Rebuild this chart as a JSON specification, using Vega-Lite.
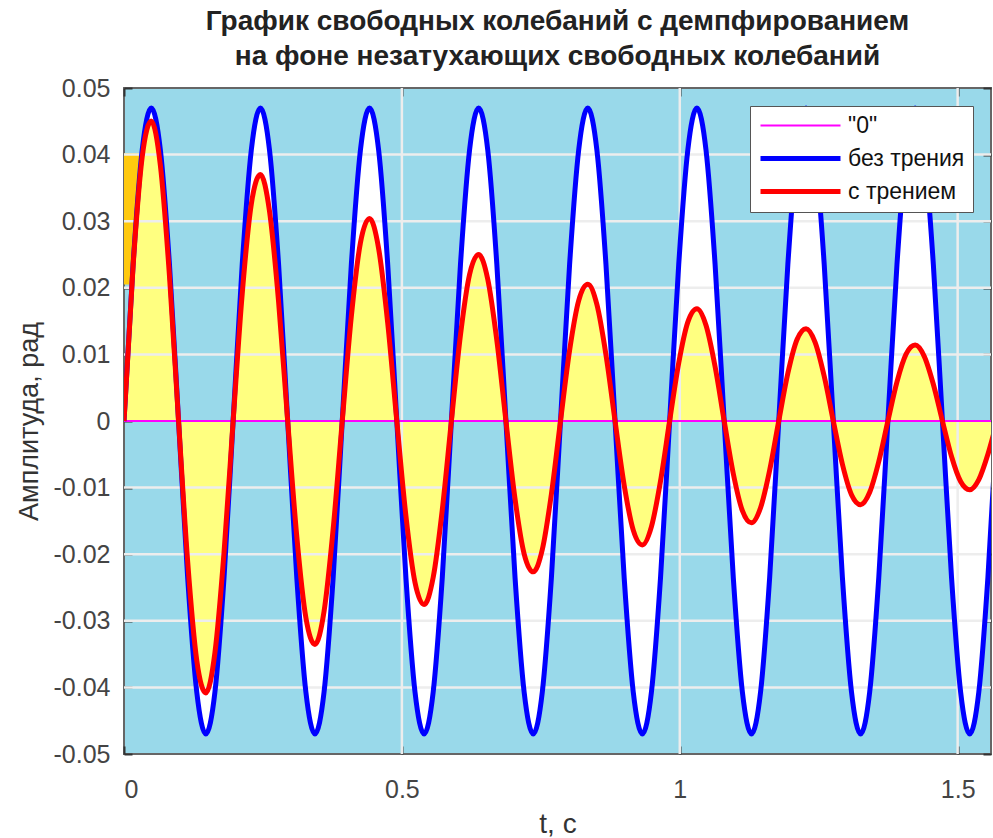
{
  "$schema": "https://vega.github.io/schema/vega-lite/v6.json",
  "width": 867,
  "height": 666,
  "autosize": {"type": "none"},
  "padding": {"left": 124, "top": 88, "right": 2, "bottom": 84},
  "background": "white",
  "config": {
    "font": "Liberation Sans",
    "view": {"fill": "#99D9EA", "stroke": "#666666", "strokeWidth": 2},
    "legend": {
      "orient": "none",
      "legendX": 626,
      "legendY": 18,
      "fillColor": "white",
      "strokeColor": "#555555",
      "padding": 8,
      "symbolType": "M-1,0H7",
      "symbolSize": 400,
      "labelFontSize": 23,
      "labelColor": "#111111",
      "labelOffset": 65,
      "rowPadding": 8,
      "title": null
    }
  },
  "title": {
    "text": ["График свободных колебаний с демпфированием", "на фоне незатухающих свободных колебаний"],
    "fontSize": 28,
    "fontWeight": "bold",
    "color": "#222222",
    "lineHeight": 35,
    "offset": 5,
    "anchor": "middle"
  },
  "datasets": {
    "osc": [
      {"t": 0, "zero": 0, "free": 0, "damped": 0},
      {"t": 0.01636, "zero": 0, "free": 0.0235, "damped": 0.023266},
      {"t": 0.03272, "zero": 0, "free": 0.0407, "damped": 0.039643},
      {"t": 0.04909, "zero": 0, "free": 0.047, "damped": 0.045034},
      {"t": 0.06545, "zero": 0, "free": 0.0407, "damped": 0.038367},
      {"t": 0.08181, "zero": 0, "free": 0.0235, "damped": 0.021793},
      {"t": 0.09817, "zero": 0, "free": 0, "damped": 0},
      {"t": 0.11454, "zero": 0, "free": -0.0235, "damped": -0.021091},
      {"t": 0.1309, "zero": 0, "free": -0.0407, "damped": -0.035936},
      {"t": 0.14726, "zero": 0, "free": -0.047, "damped": -0.040823},
      {"t": 0.16362, "zero": 0, "free": -0.0407, "damped": -0.034779},
      {"t": 0.17999, "zero": 0, "free": -0.0235, "damped": -0.019755},
      {"t": 0.19635, "zero": 0, "free": 0, "damped": 0},
      {"t": 0.21271, "zero": 0, "free": 0.0235, "damped": 0.019118},
      {"t": 0.22907, "zero": 0, "free": 0.0407, "damped": 0.032576},
      {"t": 0.24544, "zero": 0, "free": 0.047, "damped": 0.037006},
      {"t": 0.2618, "zero": 0, "free": 0.0407, "damped": 0.031527},
      {"t": 0.27816, "zero": 0, "free": 0.0235, "damped": 0.017908},
      {"t": 0.29452, "zero": 0, "free": 0, "damped": 0},
      {"t": 0.31089, "zero": 0, "free": -0.0235, "damped": -0.017331},
      {"t": 0.32725, "zero": 0, "free": -0.0407, "damped": -0.02953},
      {"t": 0.34361, "zero": 0, "free": -0.047, "damped": -0.033546},
      {"t": 0.35997, "zero": 0, "free": -0.0407, "damped": -0.028579},
      {"t": 0.37634, "zero": 0, "free": -0.0235, "damped": -0.016233},
      {"t": 0.3927, "zero": 0, "free": 0, "damped": 0},
      {"t": 0.40906, "zero": 0, "free": 0.0235, "damped": 0.01571},
      {"t": 0.42542, "zero": 0, "free": 0.0407, "damped": 0.026768},
      {"t": 0.44179, "zero": 0, "free": 0.047, "damped": 0.030409},
      {"t": 0.45815, "zero": 0, "free": 0.0407, "damped": 0.025907},
      {"t": 0.47451, "zero": 0, "free": 0.0235, "damped": 0.014716},
      {"t": 0.49087, "zero": 0, "free": 0, "damped": 0},
      {"t": 0.50724, "zero": 0, "free": -0.0235, "damped": -0.014241},
      {"t": 0.5236, "zero": 0, "free": -0.0407, "damped": -0.024266},
      {"t": 0.53996, "zero": 0, "free": -0.047, "damped": -0.027565},
      {"t": 0.55632, "zero": 0, "free": -0.0407, "damped": -0.023484},
      {"t": 0.57269, "zero": 0, "free": -0.0235, "damped": -0.013339},
      {"t": 0.58905, "zero": 0, "free": 0, "damped": 0},
      {"t": 0.60541, "zero": 0, "free": 0.0235, "damped": 0.01291},
      {"t": 0.62177, "zero": 0, "free": 0.0407, "damped": 0.021997},
      {"t": 0.63814, "zero": 0, "free": 0.047, "damped": 0.024988},
      {"t": 0.6545, "zero": 0, "free": 0.0407, "damped": 0.021289},
      {"t": 0.67086, "zero": 0, "free": 0.0235, "damped": 0.012092},
      {"t": 0.68722, "zero": 0, "free": 0, "damped": 0},
      {"t": 0.70359, "zero": 0, "free": -0.0235, "damped": -0.011703},
      {"t": 0.71995, "zero": 0, "free": -0.0407, "damped": -0.01994},
      {"t": 0.73631, "zero": 0, "free": -0.047, "damped": -0.022651},
      {"t": 0.75267, "zero": 0, "free": -0.0407, "damped": -0.019298},
      {"t": 0.76904, "zero": 0, "free": -0.0235, "damped": -0.010961},
      {"t": 0.7854, "zero": 0, "free": 0, "damped": 0},
      {"t": 0.80176, "zero": 0, "free": 0.0235, "damped": 0.010608},
      {"t": 0.81812, "zero": 0, "free": 0.0407, "damped": 0.018075},
      {"t": 0.83449, "zero": 0, "free": 0.047, "damped": 0.020533},
      {"t": 0.85085, "zero": 0, "free": 0.0407, "damped": 0.017493},
      {"t": 0.86721, "zero": 0, "free": 0.0235, "damped": 0.009937},
      {"t": 0.88357, "zero": 0, "free": 0, "damped": 0},
      {"t": 0.89994, "zero": 0, "free": -0.0235, "damped": -0.009616},
      {"t": 0.9163, "zero": 0, "free": -0.0407, "damped": -0.016385},
      {"t": 0.93266, "zero": 0, "free": -0.047, "damped": -0.018613},
      {"t": 0.94902, "zero": 0, "free": -0.0407, "damped": -0.015857},
      {"t": 0.96539, "zero": 0, "free": -0.0235, "damped": -0.009007},
      {"t": 0.98175, "zero": 0, "free": 0, "damped": 0},
      {"t": 0.99811, "zero": 0, "free": 0.0235, "damped": 0.008717},
      {"t": 1.01447, "zero": 0, "free": 0.0407, "damped": 0.014853},
      {"t": 1.03084, "zero": 0, "free": 0.047, "damped": 0.016873},
      {"t": 1.0472, "zero": 0, "free": 0.0407, "damped": 0.014375},
      {"t": 1.06356, "zero": 0, "free": 0.0235, "damped": 0.008165},
      {"t": 1.07992, "zero": 0, "free": 0, "damped": 0},
      {"t": 1.09629, "zero": 0, "free": -0.0235, "damped": -0.007902},
      {"t": 1.11265, "zero": 0, "free": -0.0407, "damped": -0.013464},
      {"t": 1.12901, "zero": 0, "free": -0.047, "damped": -0.015295},
      {"t": 1.14537, "zero": 0, "free": -0.0407, "damped": -0.013031},
      {"t": 1.16174, "zero": 0, "free": -0.0235, "damped": -0.007402},
      {"t": 1.1781, "zero": 0, "free": 0, "damped": 0},
      {"t": 1.19446, "zero": 0, "free": 0.0235, "damped": 0.007163},
      {"t": 1.21082, "zero": 0, "free": 0.0407, "damped": 0.012205},
      {"t": 1.22718, "zero": 0, "free": 0.047, "damped": 0.013865},
      {"t": 1.24355, "zero": 0, "free": 0.0407, "damped": 0.011812},
      {"t": 1.25991, "zero": 0, "free": 0.0235, "damped": 0.00671},
      {"t": 1.27627, "zero": 0, "free": 0, "damped": 0},
      {"t": 1.29263, "zero": 0, "free": -0.0235, "damped": -0.006493},
      {"t": 1.309, "zero": 0, "free": -0.0407, "damped": -0.011064},
      {"t": 1.32536, "zero": 0, "free": -0.047, "damped": -0.012568},
      {"t": 1.34172, "zero": 0, "free": -0.0407, "damped": -0.010708},
      {"t": 1.35808, "zero": 0, "free": -0.0235, "damped": -0.006082},
      {"t": 1.37445, "zero": 0, "free": 0, "damped": 0},
      {"t": 1.39081, "zero": 0, "free": 0.0235, "damped": 0.005886},
      {"t": 1.40717, "zero": 0, "free": 0.0407, "damped": 0.010029},
      {"t": 1.42353, "zero": 0, "free": 0.047, "damped": 0.011393},
      {"t": 1.4399, "zero": 0, "free": 0.0407, "damped": 0.009707},
      {"t": 1.45626, "zero": 0, "free": 0.0235, "damped": 0.005513},
      {"t": 1.47262, "zero": 0, "free": 0, "damped": 0},
      {"t": 1.48898, "zero": 0, "free": -0.0235, "damped": -0.005336},
      {"t": 1.50535, "zero": 0, "free": -0.0407, "damped": -0.009091},
      {"t": 1.52171, "zero": 0, "free": -0.047, "damped": -0.010328},
      {"t": 1.53807, "zero": 0, "free": -0.0407, "damped": -0.008799},
      {"t": 1.55443, "zero": 0, "free": -0.0235, "damped": -0.004998},
      {"t": 1.5708, "zero": 0, "free": 0, "damped": 0}
    ],
    "xg": [{"v": 0.5}, {"v": 1}, {"v": 1.5}],
    "yg": [{"v": -0.04}, {"v": -0.03}, {"v": -0.02}, {"v": -0.01}, {"v": 0.01}, {"v": 0.02}, {"v": 0.03}, {"v": 0.04}],
    "patch": [{"t0": 0, "t1": 0.03, "a0": 0.0205, "a1": 0.0402}]
  },
  "resolve": {"axis": {"x": "independent", "y": "independent"}},
  "layer": [
    {
      "data": {"name": "osc"},
      "mark": {"type": "area", "color": "white", "opacity": 1, "interpolate": "monotone", "clip": true},
      "encoding": {
        "x": {
          "field": "t", "type": "quantitative",
          "scale": {"domain": [0, 1.56], "nice": false, "zero": false},
          "axis": {
            "orient": "bottom", "values": [0, 0.5, 1, 1.5], "labelExpr": "'' + datum.value",
            "title": "t, c", "domain": false, "grid": false,
            "tickSize": -8, "tickColor": "#333333", "tickWidth": 2,
            "labelFontSize": 25, "labelColor": "#444444", "labelPadding": 31,
            "titleFontSize": 28, "titleFontWeight": "normal", "titleColor": "#333333", "titlePadding": 8
          }
        },
        "y": {
          "field": "free", "type": "quantitative",
          "scale": {"domain": [-0.05, 0.05], "nice": false},
          "axis": {
            "orient": "left", "values": [-0.05, -0.04, -0.03, -0.02, -0.01, 0, 0.01, 0.02, 0.03, 0.04, 0.05],
            "labelExpr": "'' + datum.value",
            "title": "Амплитуда, рад", "domain": false, "grid": false,
            "tickSize": -8, "tickColor": "#333333", "tickWidth": 2,
            "labelFontSize": 25, "labelColor": "#444444", "labelPadding": 22,
            "titleFontSize": 27, "titleFontWeight": "normal", "titleColor": "#333333", "titlePadding": 10
          }
        }
      }
    },
    {
      "data": {"name": "patch"},
      "mark": {"type": "rect", "color": "#FFC90E", "clip": true},
      "encoding": {
        "x": {"field": "t0", "type": "quantitative", "axis": null},
        "x2": {"field": "t1"},
        "y": {"field": "a0", "type": "quantitative", "axis": null},
        "y2": {"field": "a1"}
      }
    },
    {
      "data": {"name": "osc"},
      "mark": {"type": "area", "color": "white", "opacity": 1, "interpolate": "monotone", "clip": true},
      "encoding": {
        "x": {"field": "t", "type": "quantitative", "axis": null},
        "y": {"field": "free", "type": "quantitative", "axis": null}
      }
    },
    {
      "data": {"name": "osc"},
      "mark": {"type": "area", "color": "#FFFF80", "opacity": 1, "interpolate": "monotone", "clip": true},
      "encoding": {
        "x": {"field": "t", "type": "quantitative", "axis": null},
        "y": {"field": "damped", "type": "quantitative", "axis": null}
      }
    },
    {
      "data": {"name": "xg"},
      "mark": {"type": "rule", "color": "#EDEDED", "strokeWidth": 2.5},
      "encoding": {
        "x": {"field": "v", "type": "quantitative",
          "axis": {"orient": "top", "values": [0, 0.5, 1, 1.5], "labels": false, "title": null, "domain": false, "grid": false, "tickSize": -8, "tickColor": "#333333", "tickWidth": 2}}
      }
    },
    {
      "data": {"name": "yg"},
      "mark": {"type": "rule", "color": "#EDEDED", "strokeWidth": 2.5},
      "encoding": {
        "y": {"field": "v", "type": "quantitative",
          "axis": {"orient": "right", "values": [-0.05, -0.04, -0.03, -0.02, -0.01, 0, 0.01, 0.02, 0.03, 0.04, 0.05], "labels": false, "title": null, "domain": false, "grid": false, "tickSize": -8, "tickColor": "#333333", "tickWidth": 2}}
      }
    },
    {
      "data": {"name": "osc"},
      "transform": [{"fold": ["zero", "free", "damped"], "as": ["series", "value"]}],
      "mark": {"type": "line", "interpolate": "monotone", "clip": true},
      "encoding": {
        "x": {"field": "t", "type": "quantitative", "axis": null},
        "y": {"field": "value", "type": "quantitative", "axis": null},
        "color": {
          "field": "series", "type": "nominal",
          "scale": {"domain": ["zero", "free", "damped"], "range": ["#FF00FF", "#0000FF", "#FF0000"]},
          "legend": {"labelExpr": "datum.label == 'zero' ? '\"0\"' : datum.label == 'free' ? 'без трения' : 'с трением'"}
        },
        "strokeWidth": {
          "field": "series", "type": "nominal",
          "scale": {"type": "ordinal", "domain": ["zero", "free", "damped"], "range": [2, 5, 5]},
          "legend": {"labelExpr": "datum.label == 'zero' ? '\"0\"' : datum.label == 'free' ? 'без трения' : 'с трением'"}
        }
      }
    }
  ]
}
